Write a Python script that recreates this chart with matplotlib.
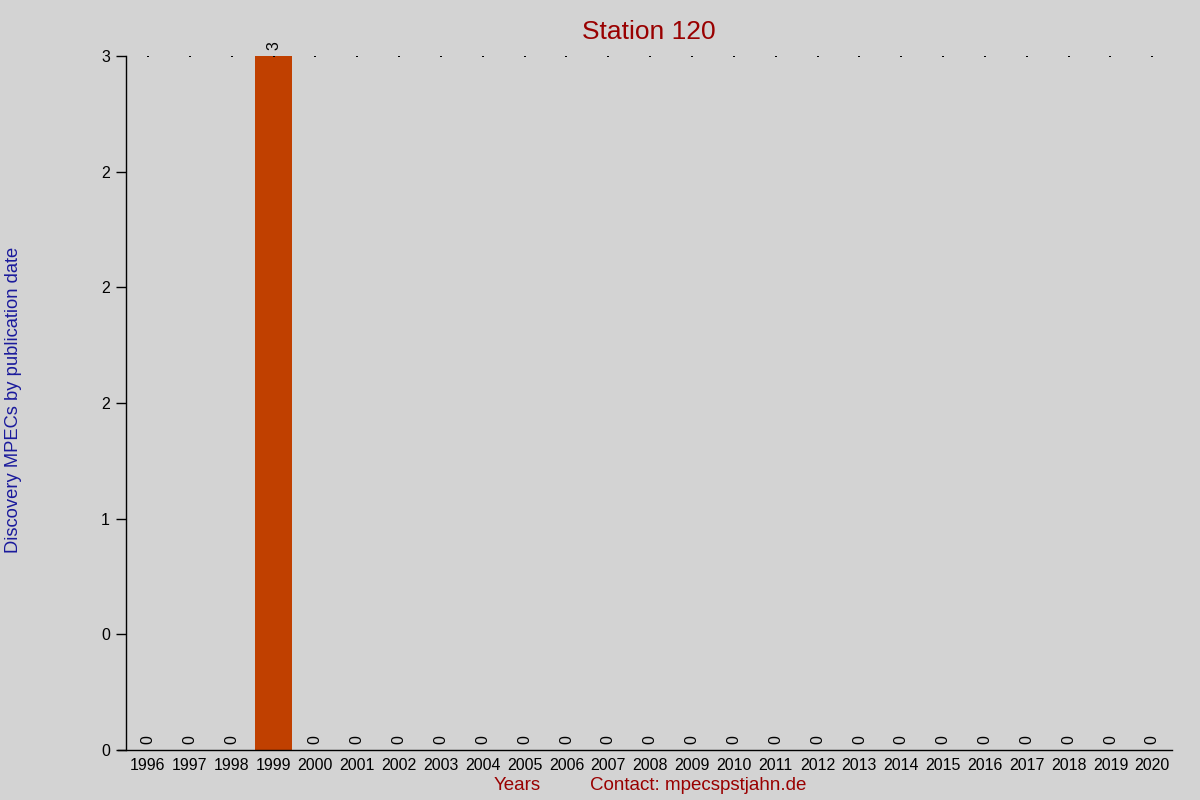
import matplotlib
matplotlib.use("Agg")
import matplotlib.pyplot as plt

years = [str(y) for y in range(1996, 2021)]
counts = [0, 0, 0, 3, 0, 0, 0, 0, 0, 0, 0, 0, 0, 0, 0, 0, 0, 0, 0, 0, 0, 0, 0, 0, 0]
ytick_vals = [0, 0.5, 1, 1.5, 2, 2.5, 3]
ytick_labels = ["0", "0", "1", "2", "2", "2", "3"]

plt.rcParams['font.family'] = ['Liberation Sans', 'DejaVu Sans']
bg = '#d3d3d3'
fig = plt.figure(figsize=(12, 8), dpi=100, facecolor=bg)
ax = fig.add_axes([0.105, 0.0625, 0.872, 0.8675], facecolor=bg)

x = list(range(len(years)))
ax.bar(x, counts, width=0.9, color='#c04000', zorder=2)
ax.scatter(x, [3] * len(x), s=0.6, color='black', marker='s', linewidths=0, zorder=3)
for xi, c in zip(x, counts):
    ax.annotate(str(c), (xi, c), xytext=(0, 4), textcoords='offset points',
                rotation=90, ha='center', va='bottom', fontsize=11.5, color='black',
                annotation_clip=False)

ax.set_xlim(-0.525, 24.48)
ax.set_ylim(0, 3)
ax.set_xticks(x)
ax.set_xticklabels(years, fontsize=11.5)
ax.set_yticks(ytick_vals)
ax.set_yticklabels(ytick_labels, fontsize=11.5)
ax.tick_params(axis='x', length=0, pad=6)
ax.tick_params(axis='y', length=7.5, width=1, pad=4)
for s in ['top', 'right']:
    ax.spines[s].set_visible(False)
ax.spines['left'].set_linewidth(1)
ax.spines['bottom'].set_linewidth(1)
ax.spines['bottom'].set_bounds(-0.72, 24.48)

ax.set_title("Station 120", color='#990000', fontsize=19, pad=12)
fig.text(0.004, 0.5, "Discovery MPECs by publication date", rotation=90, color='#1a1a9c',
         fontsize=13.2, ha='left', va='center')
fig.text(0.431, 0.018, "Years", color='#990000', fontsize=13.5, ha='center', va='center')
fig.text(0.582, 0.018, "Contact: mpecspstjahn.de", color='#990000', fontsize=13.5, ha='center', va='center')

fig.savefig("out.png", dpi=100, facecolor=bg)
